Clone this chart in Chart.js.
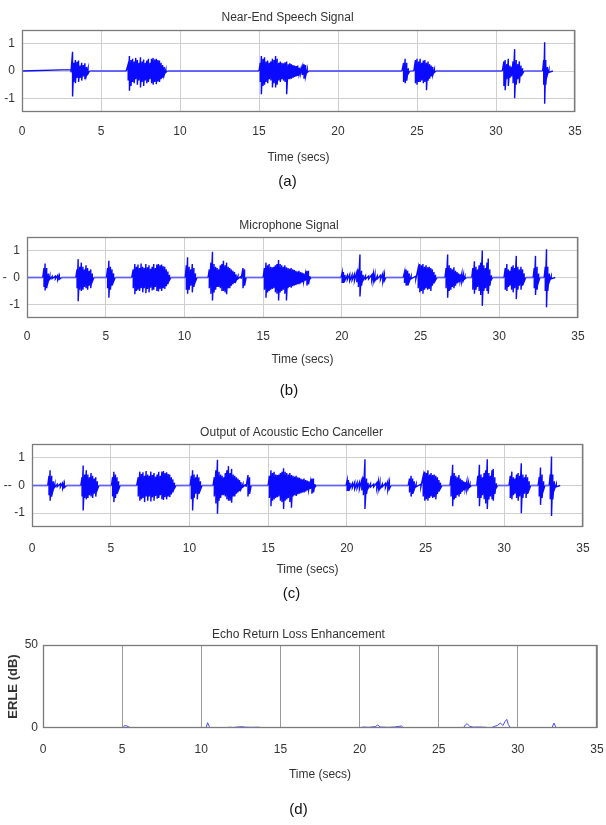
<!DOCTYPE html>
<html><head><meta charset="utf-8">
<script src="https://cdn.jsdelivr.net/npm/chart.js@4.4.1/dist/chart.umd.min.js"></script>
<style>
html,body{margin:0;padding:0;background:#fff;width:606px;height:825px;overflow:hidden;position:relative;}
canvas{position:absolute;left:0;}
</style></head><body>
<canvas id="ca" width="606" height="195" style="top:0px"></canvas>
<canvas id="cb" width="606" height="210" style="top:195px"></canvas>
<canvas id="cc" width="606" height="205" style="top:405px"></canvas>
<canvas id="cd" width="606" height="215" style="top:610px"></canvas>
<script>
// ---------- shared tick values / labels ----------
const xTicks = [0, 5, 10, 15, 20, 25, 30, 35];
const sigYTicks = [-1, 0, 1];
const aYLabels = ['-1', '0', '1'];
const bYLabels = ['-1', '-  0', '1'];
const cYLabels = ['-1', '--  0', '1'];
const dYTicks = [0, 50];
const dYLabels = ['0', '50'];

// ---------- (a) Near-End Speech Signal: sample time, upper peak, lower peak ----------
const timeA = [0,
 3.10,3.20,3.28,3.38,3.48,3.58,3.68,3.78,3.88,3.98,4.08,4.18,4.28,
 6.60,6.72,6.80,6.90,7.00,7.10,7.20,7.30,7.40,7.50,7.60,7.70,7.80,7.90,8.00,8.10,8.20,8.30,8.40,8.50,8.60,8.70,8.80,8.90,9.00,9.10,9.20,
 15.00,15.08,15.15,15.25,15.35,15.45,15.55,15.65,15.75,15.85,15.95,16.05,16.15,16.25,16.35,16.45,16.55,16.65,16.75,16.85,16.95,17.05,17.15,17.25,17.35,17.45,17.55,17.65,17.75,17.85,17.95,18.05,18.15,
 24.05,24.15,24.25,24.35,24.45,24.55,
 24.80,24.90,25.00,25.10,25.20,25.30,25.40,25.50,25.60,25.70,25.80,25.90,26.00,26.10,26.20,
 30.40,30.50,30.58,30.68,30.78,30.88,30.98,31.08,31.18,31.28,31.38,31.48,31.58,31.68,31.78,
 32.95,33.02,33.08,33.15,33.25,33.35,33.60];
const upA = [0,
 0.05,0.70,0.30,0.40,0.34,0.38,0.20,0.30,0.22,0.28,0.15,0.10,0,
 0,0.25,0.55,0.40,0.45,0.35,0.48,0.40,0.30,0.50,0.35,0.42,0.30,0.38,0.45,0.30,0.45,0.48,0.42,0.45,0.40,0.38,0.30,0.22,0.15,0.05,0,
 0,0.30,0.55,0.45,0.50,0.35,0.38,0.30,0.35,0.45,0.40,0.55,0.45,0.30,0.35,0.30,0.28,0.32,0.35,0.25,0.28,0.25,0.22,0.20,0.18,0.20,0.12,0.08,0.15,0.25,0.22,0.05,0,
 0,0.30,0.45,0.30,0.10,0,
 0,0.40,0.45,0.35,0.45,0.30,0.38,0.40,0.30,0.35,0.25,0.20,0.15,0.05,0,
 0,0.35,0.40,0.25,0.45,0.20,0.15,0.35,0.80,0.40,0.25,0.35,0.20,0.10,0,
 0,0.40,1.05,0.40,0.15,0.05,0];
const lowA = [0,
 -0.05,-0.93,-0.40,-0.45,-0.25,-0.40,-0.25,-0.35,-0.20,-0.30,-0.15,-0.10,0,
 0,-0.35,-0.72,-0.55,-0.40,-0.45,-0.30,-0.50,-0.35,-0.60,-0.40,-0.55,-0.35,-0.45,-0.40,-0.30,-0.45,-0.50,-0.40,-0.48,-0.38,-0.40,-0.30,-0.25,-0.15,-0.05,0,
 0,-0.40,-0.85,-0.55,-0.50,-0.40,-0.45,-0.30,-0.35,-0.60,-0.45,-0.60,-0.50,-0.35,-0.40,-0.30,-0.35,-0.40,-0.85,-0.30,-0.30,-0.28,-0.25,-0.22,-0.20,-0.18,-0.12,-0.08,-0.15,-0.28,-0.20,-0.05,0,
 0,-0.40,-0.45,-0.35,-0.10,0,
 0,-0.45,-0.50,-0.40,-0.40,-0.35,-0.45,-0.40,-0.70,-0.35,-0.28,-0.20,-0.15,-0.05,0,
 0,-0.55,-0.70,-0.30,-0.55,-0.25,-0.20,-0.45,-1.00,-0.50,-0.30,-0.45,-0.20,-0.10,0,
 0,-0.50,-1.20,-0.50,-0.15,-0.05,0];

// ---------- (b) Microphone Signal and (c) AEC output: sample times (shared) ----------
const timeBC = [0,
 1.00,1.08,1.15,1.25,1.35,1.45,1.60,1.80,1.95,2.05,2.20,
 3.10,3.18,3.25,3.35,3.45,3.55,3.65,3.75,3.85,3.95,4.05,4.15,4.25,
 5.05,5.12,5.20,5.30,5.40,5.50,5.60,
 6.65,6.75,6.85,6.95,7.05,7.15,7.25,7.35,7.45,7.55,7.65,7.75,7.85,7.95,8.05,8.15,8.25,8.35,8.45,8.55,8.65,8.75,8.85,8.95,9.05,9.15,
 10.05,10.12,10.20,10.30,10.40,10.50,10.60,10.70,10.80,
 11.50,11.58,11.68,11.78,11.88,11.98,12.08,12.18,12.28,12.38,12.48,12.58,12.68,12.78,12.88,12.98,13.08,13.18,13.28,13.40,13.60,13.72,13.82,13.92,
 15.00,15.08,15.18,15.28,15.38,15.48,15.58,15.68,15.78,15.88,15.98,16.08,16.18,16.28,16.38,16.48,16.58,16.68,16.78,16.88,16.98,17.08,17.18,17.28,17.38,17.48,17.58,17.68,17.78,17.88,17.98,18.05,
 19.95,20.02,20.10,20.20,20.35,20.50,20.65,20.80,20.95,21.05,21.15,21.25,21.35,21.50,21.70,21.90,22.00,22.10,22.25,22.45,22.60,22.70,22.80,
 23.90,23.98,24.08,24.18,24.28,24.40,24.70,24.85,24.95,25.05,25.15,25.25,25.35,25.45,25.55,25.65,25.75,25.85,25.95,26.05,
 26.55,26.62,26.72,26.82,26.92,27.02,27.12,27.22,27.32,27.42,27.52,27.62,27.72,27.82,27.92,
 28.25,28.32,28.42,28.52,28.62,28.72,28.82,28.92,29.02,29.12,29.22,29.30,29.40,29.50,29.58,
 30.30,30.38,30.48,30.58,30.68,30.78,30.88,30.98,31.08,31.18,31.28,31.38,31.48,31.58,31.68,
 32.15,32.22,32.30,32.40,32.50,32.58,
 32.85,32.92,33.00,33.08,33.18,33.30,33.55];
const upB = [0,
 0,0.35,0.52,0.35,0.15,0.06,0.04,0.05,0.08,0.07,0,
 0,0.30,0.68,0.40,0.55,0.40,0.30,0.45,0.35,0.25,0.30,0.15,0,
 0,0.35,0.62,0.40,0.30,0.15,0,
 0,0.30,0.50,0.40,0.48,0.35,0.52,0.40,0.35,0.50,0.38,0.45,0.32,0.40,0.50,0.35,0.48,0.50,0.45,0.48,0.42,0.40,0.30,0.22,0.10,0,
 0,0.45,0.75,0.40,0.30,0.50,0.35,0.15,0,
 0,0.30,0.55,0.95,0.50,0.40,0.35,0.30,0.45,0.50,0.62,0.45,0.55,0.40,0.35,0.30,0.25,0.20,0.12,0.05,0.05,0.35,0.30,0,
 0,0.35,0.55,0.45,0.50,0.40,0.38,0.40,0.45,0.50,0.65,0.50,0.45,0.40,0.45,0.38,0.35,0.32,0.35,0.30,0.28,0.25,0.22,0.25,0.20,0.18,0.15,0.12,0.25,0.25,0.05,0,
 0,0.18,0.20,0.10,0.08,0.12,0.10,0.12,0.20,0.30,0.85,0.25,0.10,0.06,0.05,0.10,0.15,0.12,0.05,0.08,0.15,0.12,0,
 0,0.20,0.30,0.25,0.15,0.05,0.05,0.35,0.50,0.45,0.50,0.40,0.45,0.38,0.40,0.35,0.30,0.20,0.10,0,
 0,0.35,0.85,0.45,0.35,0.30,0.38,0.25,0.20,0.15,0.12,0.15,0.10,0.05,0,
 0,0.35,0.60,0.40,0.30,0.45,0.55,1.00,0.45,0.35,0.55,0.70,0.30,0.08,0,
 0,0.35,0.50,0.30,0.25,0.40,0.45,0.35,0.80,0.40,0.30,0.40,0.30,0.15,0,
 0,0.35,0.80,0.40,0.15,0,
 0,0.40,1.05,0.40,0.15,0.05,0];
const lowB = [0,
 0,-0.35,-0.48,-0.40,-0.15,-0.06,-0.04,-0.05,-0.08,-0.07,0,
 0,-0.40,-0.88,-0.45,-0.50,-0.45,-0.35,-0.40,-0.45,-0.30,-0.40,-0.15,0,
 0,-0.40,-0.75,-0.45,-0.30,-0.15,0,
 0,-0.40,-0.62,-0.50,-0.45,-0.50,-0.40,-0.55,-0.40,-0.58,-0.42,-0.55,-0.38,-0.48,-0.45,-0.35,-0.50,-0.52,-0.42,-0.50,-0.40,-0.42,-0.32,-0.25,-0.10,0,
 0,-0.45,-0.60,-0.45,-0.30,-0.55,-0.35,-0.15,0,
 0,-0.40,-0.60,-0.85,-0.55,-0.45,-0.35,-0.35,-0.40,-0.50,-0.50,-0.55,-0.62,-0.40,-0.40,-0.30,-0.25,-0.20,-0.12,-0.05,-0.05,-0.40,-0.30,0,
 0,-0.45,-0.75,-0.55,-0.50,-0.45,-0.42,-0.40,-0.55,-0.60,-0.85,-0.55,-0.50,-0.45,-0.60,-0.85,-0.40,-0.35,-0.38,-0.32,-0.30,-0.28,-0.25,-0.25,-0.22,-0.18,-0.15,-0.12,-0.30,-0.25,-0.05,0,
 0,-0.20,-0.20,-0.10,-0.08,-0.12,-0.10,-0.12,-0.18,-0.35,-0.70,-0.30,-0.10,-0.06,-0.05,-0.10,-0.15,-0.12,-0.05,-0.08,-0.15,-0.12,0,
 0,-0.20,-0.30,-0.30,-0.15,-0.05,-0.05,-0.40,-0.55,-0.50,-0.60,-0.45,-0.40,-0.45,-0.42,-0.50,-0.30,-0.22,-0.10,0,
 0,-0.40,-0.75,-0.50,-0.45,-0.35,-0.40,-0.30,-0.22,-0.18,-0.12,-0.15,-0.10,-0.05,0,
 0,-0.45,-0.60,-0.45,-0.35,-0.50,-0.65,-1.05,-0.50,-0.40,-0.50,-0.60,-0.30,-0.08,0,
 0,-0.45,-0.50,-0.35,-0.30,-0.45,-0.55,-0.40,-0.80,-0.45,-0.30,-0.45,-0.30,-0.15,0,
 0,-0.40,-0.65,-0.45,-0.15,0,
 0,-0.50,-1.10,-0.50,-0.15,-0.05,0];
const upC = [0,
 0,0.35,0.55,0.35,0.15,0.06,0.04,0.06,0.10,0.08,0,
 0,0.30,0.72,0.40,0.55,0.40,0.30,0.45,0.35,0.25,0.30,0.15,0,
 0,0.30,0.50,0.40,0.30,0.15,0,
 0,0.30,0.50,0.42,0.48,0.35,0.52,0.40,0.35,0.50,0.38,0.45,0.32,0.40,0.50,0.35,0.50,0.52,0.45,0.48,0.42,0.40,0.30,0.22,0.10,0,
 0,0.35,0.55,0.40,0.30,0.40,0.30,0.15,0,
 0,0.30,0.55,0.93,0.50,0.40,0.35,0.30,0.45,0.55,0.70,0.45,0.60,0.40,0.35,0.30,0.25,0.20,0.12,0.05,0.05,0.38,0.30,0,
 0,0.35,0.55,0.45,0.50,0.40,0.38,0.40,0.45,0.50,0.62,0.50,0.45,0.40,0.45,0.38,0.35,0.32,0.35,0.30,0.28,0.25,0.22,0.25,0.20,0.18,0.15,0.12,0.25,0.25,0.05,0,
 0,0.18,0.20,0.10,0.08,0.12,0.10,0.12,0.20,0.30,0.95,0.25,0.10,0.06,0.05,0.10,0.15,0.12,0.05,0.08,0.15,0.12,0,
 0,0.25,0.35,0.25,0.15,0.05,0.05,0.35,0.50,0.45,0.55,0.40,0.45,0.38,0.40,0.35,0.30,0.20,0.10,0,
 0,0.35,0.75,0.45,0.35,0.30,0.38,0.25,0.20,0.15,0.12,0.15,0.10,0.05,0,
 0,0.35,0.75,0.40,0.30,0.45,0.55,0.95,0.45,0.35,0.55,0.60,0.30,0.08,0,
 0,0.35,0.50,0.30,0.25,0.40,0.45,0.35,0.80,0.40,0.30,0.40,0.30,0.15,0,
 0,0.30,0.65,0.40,0.15,0,
 0,0.40,1.05,0.40,0.15,0.05,0];
const lowC = [0,
 0,-0.35,-0.55,-0.40,-0.15,-0.06,-0.04,-0.06,-0.10,-0.08,0,
 0,-0.40,-0.90,-0.45,-0.50,-0.45,-0.35,-0.40,-0.45,-0.30,-0.40,-0.15,0,
 0,-0.40,-0.60,-0.45,-0.30,-0.15,0,
 0,-0.40,-0.55,-0.50,-0.45,-0.60,-0.40,-0.55,-0.40,-0.58,-0.42,-0.55,-0.38,-0.48,-0.45,-0.35,-0.50,-0.52,-0.42,-0.50,-0.40,-0.42,-0.32,-0.25,-0.10,0,
 0,-0.50,-0.90,-0.45,-0.30,-0.50,-0.30,-0.15,0,
 0,-0.40,-0.65,-1.02,-0.55,-0.45,-0.35,-0.35,-0.40,-0.50,-0.55,-0.55,-0.62,-0.40,-0.40,-0.30,-0.25,-0.20,-0.12,-0.05,-0.05,-0.40,-0.30,0,
 0,-0.45,-0.75,-0.55,-0.50,-0.45,-0.42,-0.40,-0.55,-0.60,-0.85,-0.55,-0.50,-0.45,-0.60,-0.80,-0.40,-0.35,-0.38,-0.32,-0.30,-0.28,-0.25,-0.25,-0.22,-0.18,-0.15,-0.12,-0.30,-0.25,-0.05,0,
 0,-0.20,-0.20,-0.10,-0.08,-0.12,-0.10,-0.12,-0.18,-0.35,-0.85,-0.30,-0.10,-0.06,-0.05,-0.10,-0.15,-0.12,-0.05,-0.08,-0.15,-0.12,0,
 0,-0.25,-0.40,-0.30,-0.15,-0.05,-0.05,-0.40,-0.55,-0.50,-0.55,-0.45,-0.40,-0.45,-0.42,-0.50,-0.30,-0.22,-0.10,0,
 0,-0.40,-0.75,-0.50,-0.45,-0.35,-0.40,-0.30,-0.22,-0.18,-0.12,-0.15,-0.10,-0.05,0,
 0,-0.45,-0.75,-0.45,-0.35,-0.50,-0.65,-0.85,-0.50,-0.40,-0.50,-0.55,-0.30,-0.08,0,
 0,-0.45,-0.50,-0.35,-0.30,-0.45,-0.55,-0.40,-1.00,-0.45,-0.30,-0.45,-0.30,-0.15,0,
 0,-0.40,-0.70,-0.45,-0.15,0,
 0,-0.50,-1.10,-0.50,-0.15,-0.05,0];

// ---------- (d) Echo Return Loss Enhancement (dB) ----------
const timeD = [0, 0.95,1.05,1.20,1.45,1.60,1.85,2.05,
 5.05,5.15,5.30,5.45,5.60,
 10.30,10.40,10.50,10.60,
 11.60,11.75,12.00,12.30,12.55,12.80,13.20,13.60,13.90,
 20.05,20.20,20.60,21.00,21.15,21.30,21.80,22.20,22.65,22.80,
 26.55,26.70,26.80,26.95,27.20,27.60,28.00,28.30,
 28.45,28.70,28.90,29.05,29.20,29.30,29.40,29.55,
 32.15,32.28,32.40,32.50,33.50];
const erleD = [0, 0,0.3,0,0.3,0,0.3,0,
 0,1.5,1.2,0.5,0,
 0,3.2,1.0,0,
 0,0.5,0.3,0.6,0.8,0.5,0.4,0.5,0,
 0,0.6,0.4,0.9,1.8,0.6,0.4,0.6,1.2,0,
 0,2.0,2.6,1.0,0.5,0.6,0.4,0,
 0.8,1.5,3.0,1.5,4.0,5.2,2.0,0,
 0,3.0,0.5,0,0];

// ---------- helpers ----------
function checkLen(name, ...arrs){ const n = arrs[0].length; arrs.forEach(a=>{ if(a.length!==n) throw new Error('length mismatch '+name+' '+n+' vs '+a.length); }); }
checkLen('A', timeA, upA, lowA); checkLen('B', timeBC, upB, lowB); checkLen('C', timeBC, upC, lowC); checkLen('D', timeD, erleD);

function zigzag(times, up, low){
  const pts = [];
  for (let i = 0; i < times.length; i++){
    pts.push({x: times[i], y: up[i]});
    if (low[i] !== up[i]) pts.push({x: times[i], y: low[i]});
  }
  return pts;
}
function pairs(times, vals){ return times.map((t,i)=>({x:t, y:vals[i]})); }

const FONT = "'Liberation Sans', Arial, Helvetica, sans-serif";
const boxPlugin = {
  id: 'axbox',
  afterDatasetsDraw(chart){
    const {ctx, chartArea: a} = chart;
    ctx.save();
    ctx.strokeStyle = '#7a7a7a';
    ctx.lineWidth = 1.3;
    ctx.strokeRect(Math.round(a.left)+0.5, Math.round(a.top)+0.5, Math.round(a.right-a.left)-1, Math.round(a.bottom-a.top)-1);
    ctx.restore();
  }
};

function build(spec){
  const TLH = spec.titleSize*1.2;
  const tPadTop = spec.titleY - spec.top - TLH/2;
  const tPadBot = spec.box.t - spec.top - tPadTop - TLH;
  const CLH = spec.capSize*1.2;
  const cPadBot = spec.top + spec.height - spec.capY - CLH/2;
  const cPadTop = 2;
  const capTop = spec.top + spec.height - cPadBot - CLH - cPadTop;
  const xAxisH = capTop - spec.box.b;
  const XLH = spec.xTitleSize*1.2;
  const xtPadBot = capTop - spec.xTitleY - XLH/2;
  const TK = spec.tickSize*1.2;
  const xTickPad = spec.tickY - spec.box.b - TK/2;
  const yBoxL = spec.box.l;
  const flat = spec.flatColor;
  new Chart(document.getElementById(spec.id), {
    type: 'line',
    data: { datasets: [{ data: spec.points, borderColor: spec.color, borderWidth: spec.lw, pointRadius: 0, tension: 0, fill: false,
      segment: flat ? {
        borderColor: c => (c.p0.parsed.y === 0 && c.p1.parsed.y === 0) ? flat : undefined,
        borderWidth: c => (c.p0.parsed.y === 0 && c.p1.parsed.y === 0) ? 1.8 : undefined
      } : {} }] },
    options: {
      responsive: false, animation: false, events: [],
      layout: { padding: { left: 0, right: 606 - spec.box.r, top: 0, bottom: 0 } },
      plugins: {
        legend: { display: false }, tooltip: { enabled: false },
        title: { display: true, text: spec.title, color: '#333', font: { family: FONT, size: spec.titleSize, weight: 'normal' }, padding: { top: tPadTop, bottom: tPadBot } },
        subtitle: { display: true, position: 'bottom', text: spec.caption, color: '#111', font: { family: FONT, size: spec.capSize }, padding: { top: cPadTop, bottom: cPadBot } }
      },
      scales: {
        x: {
          type: 'linear', min: 0, max: 35,
          afterBuildTicks: s => { s.ticks = xTicks.map(v => ({ value: v })); },
          afterFit: s => { s.height = xAxisH; s.paddingLeft = 0; s.paddingRight = 0; },
          grid: { color: spec.xGridColor, drawTicks: false, lineWidth: 1 },
          border: { display: false },
          ticks: { color: '#333', font: { family: FONT, size: spec.tickSize }, padding: xTickPad, maxRotation: 0, autoSkip: false, callback: v => String(v) },
          title: { display: true, text: 'Time (secs)', color: '#333', font: { family: FONT, size: spec.xTitleSize }, padding: { top: 0, bottom: xtPadBot } }
        },
        y: {
          type: 'linear', min: spec.yMin, max: spec.yMax,
          afterBuildTicks: s => { s.ticks = spec.yTicks.map(v => ({ value: v })); },
          afterFit: s => { s.width = yBoxL; s.paddingTop = 0; s.paddingBottom = 0; },
          grid: { display: spec.yGrid, color: '#cfcfcf', drawTicks: false },
          border: { display: false },
          ticks: { color: '#333', font: { family: FONT, size: spec.tickSize }, padding: spec.yTickPad,
                   callback: v => { const i = spec.yTicks.indexOf(v); return i >= 0 ? spec.yLabels[i] : ''; } },
          title: spec.yTitle ? { display: true, text: spec.yTitle, color: '#333', font: { family: FONT, size: 13, weight: 'bold' }, padding: { top: 6, bottom: 0 } } : { display: false }
        }
      }
    },
    plugins: [boxPlugin]
  });
}

const SIG = '#0a0aff';
const FLAT = 'rgba(70,70,255,0.8)';
build({ id: 'ca', top: 0, height: 195, box: { l: 22, r: 575, t: 30, b: 112 },
  title: 'Near-End Speech Signal', caption: '(a)', titleY: 18, tickY: 132, xTitleY: 158, capY: 182,
  titleSize: 12, capSize: 15, xTitleSize: 12, tickSize: 12, yTickPad: 7,
  yMin: -1.5, yMax: 1.5, yTicks: sigYTicks, yLabels: aYLabels, yGrid: true, xGridColor: '#cfcfcf',
  points: zigzag(timeA, upA, lowA), color: SIG, flatColor: FLAT, lw: 1.4 });
build({ id: 'cb', top: 195, height: 210, box: { l: 27, r: 578, t: 237, b: 318 },
  title: 'Microphone Signal', caption: '(b)', titleY: 226, tickY: 337, xTitleY: 360, capY: 391,
  titleSize: 12, capSize: 15, xTitleSize: 12, tickSize: 12, yTickPad: 7,
  yMin: -1.5, yMax: 1.5, yTicks: sigYTicks, yLabels: bYLabels, yGrid: true, xGridColor: '#cfcfcf',
  points: zigzag(timeBC, upB, lowB), color: SIG, flatColor: FLAT, lw: 1.4 });
build({ id: 'cc', top: 405, height: 205, box: { l: 32, r: 583, t: 444, b: 527 },
  title: 'Output of Acoustic Echo Canceller', caption: '(c)', titleY: 433, tickY: 549, xTitleY: 570, capY: 594,
  titleSize: 12, capSize: 15, xTitleSize: 12, tickSize: 12, yTickPad: 7,
  yMin: -1.5, yMax: 1.5, yTicks: sigYTicks, yLabels: cYLabels, yGrid: true, xGridColor: '#cfcfcf',
  points: zigzag(timeBC, upC, lowC), color: SIG, flatColor: FLAT, lw: 1.4 });
build({ id: 'cd', top: 610, height: 215, box: { l: 43, r: 597, t: 645, b: 728 },
  title: 'Echo Return Loss Enhancement', caption: '(d)', titleY: 635, tickY: 750, xTitleY: 775, capY: 810,
  titleSize: 12, capSize: 15, xTitleSize: 12, tickSize: 12, yTickPad: 5,
  yMin: 0, yMax: 50, yTicks: dYTicks, yLabels: dYLabels, yGrid: false, xGridColor: '#9a9a9a',
  yTitle: 'ERLE (dB)',
  points: pairs(timeD, erleD), color: '#4a4aff', lw: 1 });
</script>
</body></html>
